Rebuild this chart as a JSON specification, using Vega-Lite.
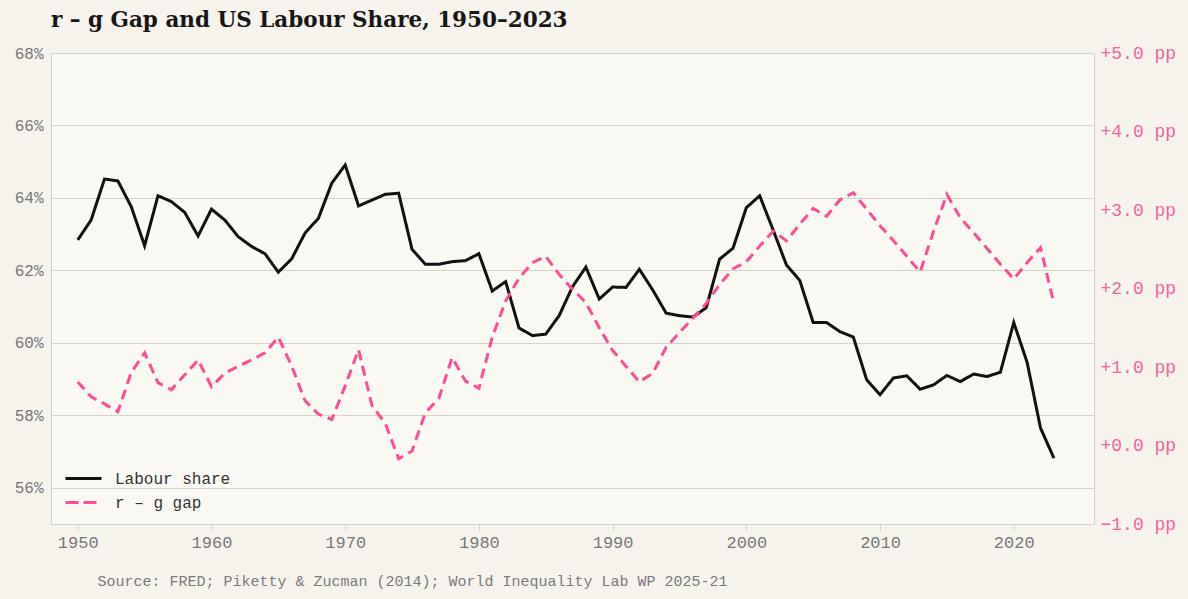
{
  "$schema": "https://vega.github.io/schema/vega-lite/v6.json",
  "width": 1043,
  "height": 471,
  "autosize": {"type": "none"},
  "padding": {"left": 51, "top": 53, "right": 94, "bottom": 75},
  "background": "#f6f3ed",
  "title": {
    "text": "r – g Gap and US Labour Share, 1950–2023",
    "anchor": "start",
    "frame": "group",
    "font": "DejaVu Serif",
    "fontSize": 21.5,
    "fontWeight": "bold",
    "color": "#161616",
    "offset": 13
  },
  "config": {
    "view": {"fill": "#faf8f2", "stroke": "#d4cfc5"},
    "font": "Liberation Mono",
    "axis": {"labelFont": "Liberation Mono", "domain": false},
    "legend": {"labelFont": "Liberation Mono"}
  },
  "data": {
    "values": [
      {"year": 1950, "labour": 62.84, "gap": 0.81},
      {"year": 1951, "labour": 63.39, "gap": 0.62},
      {"year": 1952, "labour": 64.52, "gap": 0.53},
      {"year": 1953, "labour": 64.47, "gap": 0.43},
      {"year": 1954, "labour": 63.76, "gap": 0.93},
      {"year": 1955, "labour": 62.68, "gap": 1.18},
      {"year": 1956, "labour": 64.06, "gap": 0.8},
      {"year": 1957, "labour": 63.9, "gap": 0.71},
      {"year": 1958, "labour": 63.6, "gap": 0.9},
      {"year": 1959, "labour": 62.95, "gap": 1.09},
      {"year": 1960, "labour": 63.69, "gap": 0.75},
      {"year": 1961, "labour": 63.39, "gap": 0.92},
      {"year": 1962, "labour": 62.93, "gap": 1.01},
      {"year": 1963, "labour": 62.66, "gap": 1.09},
      {"year": 1964, "labour": 62.46, "gap": 1.18},
      {"year": 1965, "labour": 61.95, "gap": 1.38},
      {"year": 1966, "labour": 62.32, "gap": 1.01},
      {"year": 1967, "labour": 63.03, "gap": 0.57},
      {"year": 1968, "labour": 63.44, "gap": 0.4},
      {"year": 1969, "labour": 64.41, "gap": 0.33},
      {"year": 1970, "labour": 64.91, "gap": 0.76},
      {"year": 1971, "labour": 63.78, "gap": 1.22},
      {"year": 1972, "labour": 63.94, "gap": 0.51},
      {"year": 1973, "labour": 64.1, "gap": 0.28},
      {"year": 1974, "labour": 64.13, "gap": -0.17},
      {"year": 1975, "labour": 62.58, "gap": -0.07},
      {"year": 1976, "labour": 62.17, "gap": 0.42},
      {"year": 1977, "labour": 62.17, "gap": 0.6},
      {"year": 1978, "labour": 62.24, "gap": 1.12},
      {"year": 1979, "labour": 62.27, "gap": 0.82},
      {"year": 1980, "labour": 62.46, "gap": 0.73},
      {"year": 1981, "labour": 61.43, "gap": 1.38},
      {"year": 1982, "labour": 61.69, "gap": 1.84},
      {"year": 1983, "labour": 60.41, "gap": 2.13},
      {"year": 1984, "labour": 60.2, "gap": 2.33},
      {"year": 1985, "labour": 60.24, "gap": 2.41},
      {"year": 1986, "labour": 60.75, "gap": 2.18},
      {"year": 1987, "labour": 61.55, "gap": 1.99},
      {"year": 1988, "labour": 62.09, "gap": 1.82},
      {"year": 1989, "labour": 61.21, "gap": 1.5},
      {"year": 1990, "labour": 61.54, "gap": 1.21},
      {"year": 1991, "labour": 61.53, "gap": 1.01},
      {"year": 1992, "labour": 62.03, "gap": 0.81},
      {"year": 1993, "labour": 61.46, "gap": 0.92},
      {"year": 1994, "labour": 60.82, "gap": 1.25},
      {"year": 1995, "labour": 60.75, "gap": 1.44},
      {"year": 1996, "labour": 60.71, "gap": 1.62},
      {"year": 1997, "labour": 60.97, "gap": 1.81},
      {"year": 1998, "labour": 62.31, "gap": 2.05},
      {"year": 1999, "labour": 62.61, "gap": 2.25},
      {"year": 2000, "labour": 63.73, "gap": 2.34},
      {"year": 2001, "labour": 64.06, "gap": 2.54},
      {"year": 2002, "labour": 63.12, "gap": 2.73},
      {"year": 2003, "labour": 62.15, "gap": 2.61},
      {"year": 2004, "labour": 61.72, "gap": 2.82},
      {"year": 2005, "labour": 60.56, "gap": 3.02},
      {"year": 2006, "labour": 60.56, "gap": 2.92},
      {"year": 2007, "labour": 60.31, "gap": 3.13},
      {"year": 2008, "labour": 60.16, "gap": 3.22},
      {"year": 2009, "labour": 58.98, "gap": 3.01},
      {"year": 2010, "labour": 58.57, "gap": 2.8},
      {"year": 2011, "labour": 59.03, "gap": 2.61},
      {"year": 2012, "labour": 59.09, "gap": 2.41},
      {"year": 2013, "labour": 58.72, "gap": 2.21},
      {"year": 2014, "labour": 58.84, "gap": 2.73},
      {"year": 2015, "labour": 59.1, "gap": 3.2},
      {"year": 2016, "labour": 58.93, "gap": 2.9},
      {"year": 2017, "labour": 59.14, "gap": 2.71},
      {"year": 2018, "labour": 59.07, "gap": 2.51},
      {"year": 2019, "labour": 59.19, "gap": 2.31},
      {"year": 2020, "labour": 60.56, "gap": 2.12},
      {"year": 2021, "labour": 59.46, "gap": 2.33},
      {"year": 2022, "labour": 57.65, "gap": 2.52},
      {"year": 2023, "labour": 56.82, "gap": 1.81}
    ]
  },
  "encoding": {
    "x": {
      "field": "year",
      "type": "quantitative",
      "scale": {"domain": [1948, 2026], "nice": false, "zero": false},
      "axis": {
        "values": [1950, 1960, 1970, 1980, 1990, 2000, 2010, 2020],
        "format": "d",
        "grid": false,
        "ticks": true,
        "tickSize": 6,
        "tickColor": "#d4cfc5",
        "labelColor": "#777777",
        "labelFontSize": 17,
        "labelPadding": 4,
        "title": "Source: FRED; Piketty & Zucman (2014); World Inequality Lab WP 2025-21",
        "titleFont": "Liberation Mono",
        "titleFontSize": 15,
        "titleFontWeight": "normal",
        "titleColor": "#7a7a7a",
        "titleAnchor": "start",
        "titleAlign": "left",
        "titleBaseline": "alphabetic",
        "titleX": 46,
        "titleY": 61
      }
    }
  },
  "layer": [
    {
      "transform": [{"calculate": "'Labour share'", "as": "series"}],
      "mark": {"type": "line", "strokeWidth": 3, "strokeJoin": "miter"},
      "encoding": {
        "y": {
          "field": "labour",
          "type": "quantitative",
          "scale": {"domain": [55, 68], "nice": false, "zero": false},
          "axis": {
            "orient": "left",
            "values": [56, 58, 60, 62, 64, 66, 68],
            "labelExpr": "datum.value + '%'",
            "grid": true,
            "gridColor": "#d8d3c9",
            "ticks": false,
            "labelColor": "#777777",
            "labelFontSize": 16,
            "labelPadding": 8,
            "title": null
          }
        },
        "color": {
          "field": "series",
          "type": "nominal",
          "scale": {"domain": ["Labour share", "r – g gap"], "range": ["#111111", "#ff4d94"]},
          "legend": {
            "title": null,
            "orient": "bottom-left",
            "offset": 13,
            "symbolType": "M-1,0H3",
            "symbolSize": 324,
            "symbolStrokeWidth": 3,
            "labelFontSize": 16,
            "labelColor": "#333333",
            "labelOffset": 30,
            "rowPadding": 5
          }
        },
        "strokeDash": {
          "field": "series",
          "type": "nominal",
          "scale": {"domain": ["Labour share", "r – g gap"], "range": [[1, 0], [13, 5]]},
          "legend": null
        }
      }
    },
    {
      "transform": [{"calculate": "'r – g gap'", "as": "series"}],
      "mark": {"type": "line", "strokeWidth": 3, "strokeDash": [10, 6]},
      "encoding": {
        "y": {
          "field": "gap",
          "type": "quantitative",
          "scale": {"domain": [-1, 5], "nice": false, "zero": false},
          "axis": {
            "orient": "right",
            "values": [-1, 0, 1, 2, 3, 4, 5],
            "labelExpr": "(datum.value >= 0 ? '+' : '') + format(datum.value, '.1f') + ' pp'",
            "grid": false,
            "ticks": false,
            "labelColor": "#f2649f",
            "labelFontSize": 18,
            "labelPadding": 6,
            "title": null
          }
        },
        "color": {"field": "series", "type": "nominal"}
      }
    },
    {
      "mark": {"type": "rule", "color": "#ff7aae", "strokeWidth": 1, "strokeDash": [1.5, 2.5]},
      "encoding": {
        "y": {"datum": 0, "type": "quantitative", "scale": {"domain": [-1, 5], "nice": false, "zero": false}, "axis": null}
      }
    }
  ],
  "resolve": {"scale": {"y": "independent", "color": "shared", "strokeDash": "shared"}}
}
